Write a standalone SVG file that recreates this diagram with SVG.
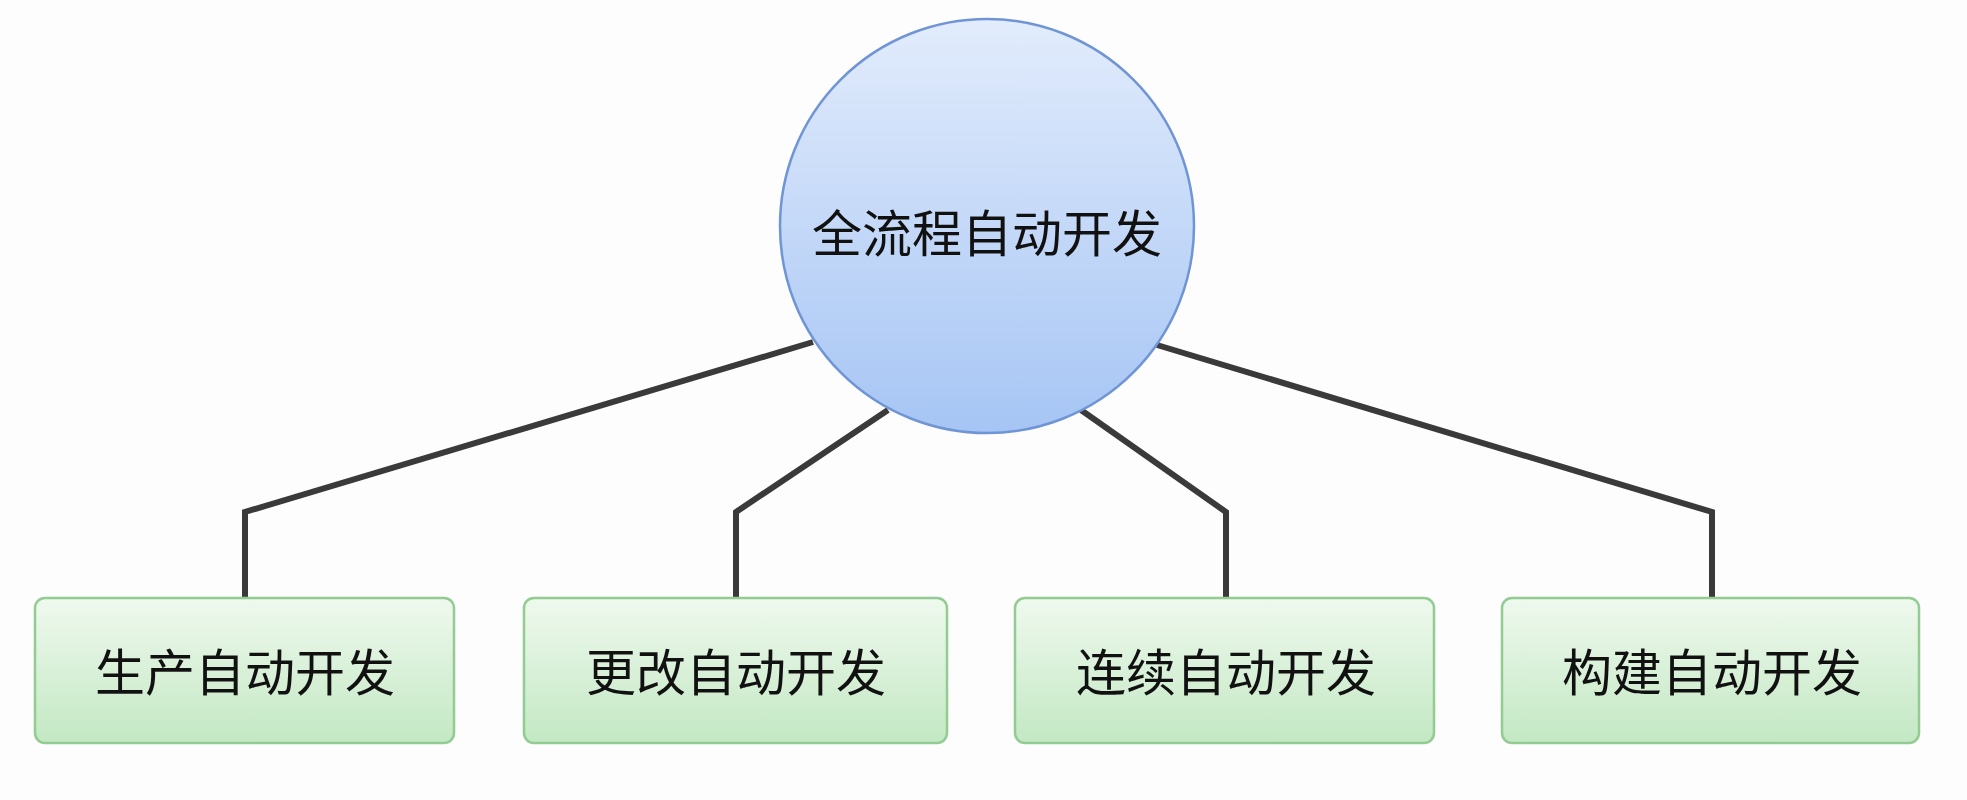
<svg xmlns="http://www.w3.org/2000/svg" width="1967" height="800" viewBox="0 0 1967 800">
<defs>
<linearGradient id="gc" x1="0" y1="0" x2="0" y2="1"><stop offset="0" stop-color="#e2ecfc"/><stop offset="1" stop-color="#a6c5f4"/></linearGradient>
<linearGradient id="gb" x1="0" y1="0" x2="0" y2="1"><stop offset="0" stop-color="#eff9ee"/><stop offset="1" stop-color="#c3e8c3"/></linearGradient>
</defs>
<style>
.t{font-family:"Noto Sans CJK SC","Noto Sans",sans-serif;font-size:50px;fill:#111;text-anchor:middle;dominant-baseline:central}
.b{fill:url(#gb);stroke:#93cc93;stroke-width:2.5}
.c{fill:none;stroke:#3a3a3a;stroke-width:6;stroke-linejoin:miter}
</style>
<rect width="1967" height="800" fill="#fdfdfd"/>
<g id="connectors">
<polyline class="c" points="813,342 245,512 245,598"/>
<polyline class="c" points="888,410 736,512 736,598"/>
<polyline class="c" points="1081,410 1226,512 1226,598"/>
<polyline class="c" points="1157,345 1712,512 1712,598"/>
</g>
<g id="root"><circle cx="987" cy="226" r="207" fill="url(#gc)" stroke="#6f95d6" stroke-width="2.5"/><text class="t" x="987" y="230">全流程自动开发</text></g>
<g id="n1"><rect class="b" x="35" y="598" width="419" height="145" rx="10"/><text class="t" x="245" y="669">生产自动开发</text></g>
<g id="n2"><rect class="b" x="524" y="598" width="423" height="145" rx="10"/><text class="t" x="736" y="669">更改自动开发</text></g>
<g id="n3"><rect class="b" x="1015" y="598" width="419" height="145" rx="10"/><text class="t" x="1226" y="669">连续自动开发</text></g>
<g id="n4"><rect class="b" x="1502" y="598" width="417" height="145" rx="10"/><text class="t" x="1712" y="669">构建自动开发</text></g>
</svg>
